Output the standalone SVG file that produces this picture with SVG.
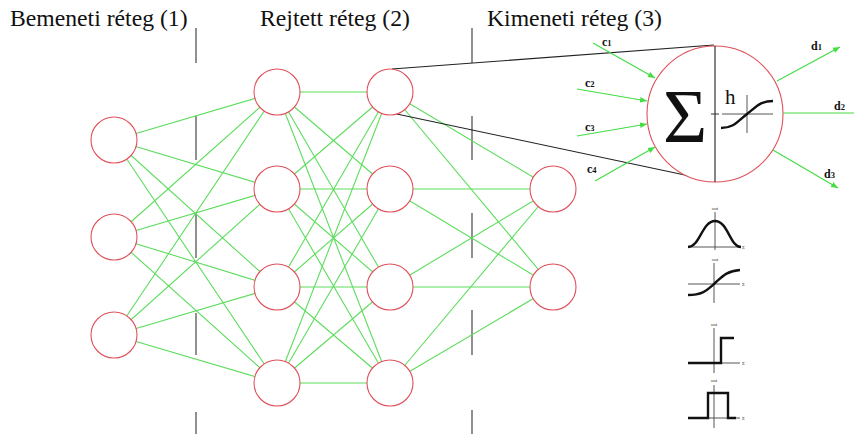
<svg xmlns="http://www.w3.org/2000/svg" width="854" height="434" viewBox="0 0 854 434">
<defs>
<style>
.n{fill:#fff;stroke:#e0505a;stroke-width:1.1}
.e{stroke:#5ddd5d;stroke-width:1.1;fill:none}
.a{stroke:#44dd44;stroke-width:1.2;fill:none}
.d{stroke:#555;stroke-width:1.3}
.k{stroke:#222;stroke-width:1.1;fill:none}
.t{font-family:"Liberation Serif","Times New Roman",serif;fill:#111}
.title{font-size:23.7px}
.lbl{font-size:12px;font-weight:bold}
.sub{font-size:8.5px}
.ax{stroke:#444;stroke-width:0.9;fill:none}
.fn{stroke:#111;stroke-width:2.4;fill:none}
.tiny{font-family:"Liberation Serif",serif;font-size:5px;fill:#333}
</style>
<marker id="ar" viewBox="0 0 10 10" refX="10" refY="5" markerWidth="7" markerHeight="7" markerUnits="userSpaceOnUse" orient="auto">
<path d="M0,1 L10,5 L0,9 Z" fill="#44dd44"/>
</marker>
</defs>
<rect width="854" height="434" fill="#fff"/>

<g id="titles" class="t title">
<text x="10" y="26">Bemeneti réteg (1)</text>
<text x="260" y="26">Rejtett réteg (2)</text>
<text x="487" y="26">Kimeneti réteg (3)</text>
</g>

<g id="separators" class="d">
<line x1="196" y1="28" x2="196" y2="63"/>
<line x1="196" y1="116" x2="196" y2="160"/>
<line x1="196" y1="213" x2="196" y2="258"/>
<line x1="196" y1="313" x2="196" y2="355"/>
<line x1="196" y1="412" x2="196" y2="434"/>
<line x1="472" y1="28" x2="472" y2="63"/>
<line x1="472" y1="116" x2="472" y2="160"/>
<line x1="472" y1="213" x2="472" y2="258"/>
<line x1="472" y1="310" x2="472" y2="355"/>
<line x1="472" y1="410" x2="472" y2="434"/>
</g>

<g id="connectors" class="e">
<path d="M114,140L277,92M114,140L277,189M114,140L277,287M114,140L277,383
M114,237L277,92M114,237L277,189M114,237L277,287M114,237L277,383
M114,335L277,92M114,335L277,189M114,335L277,287M114,335L277,383"/>
<path d="M277,92L390,92M277,92L390,189M277,92L390,287M277,92L390,383
M277,189L390,92M277,189L390,189M277,189L390,287M277,189L390,383
M277,287L390,92M277,287L390,189M277,287L390,287M277,287L390,383
M277,383L390,92M277,383L390,189M277,383L390,287M277,383L390,383"/>
<path d="M390,92L553,189M390,92L553,287M390,189L553,189M390,189L553,287
M390,287L553,189M390,287L553,287M390,383L553,189M390,383L553,287"/>
</g>

<g id="zoom-lines" class="k">
<line x1="392" y1="69" x2="714" y2="45"/>
<line x1="392" y1="113" x2="699" y2="178"/>
</g>

<g id="input-1"><circle class="n" cx="114" cy="140" r="23"/></g>
<g id="input-2"><circle class="n" cx="114" cy="237" r="23"/></g>
<g id="input-3"><circle class="n" cx="114" cy="335" r="23"/></g>
<g id="hidden1-1"><circle class="n" cx="277" cy="92" r="23"/></g>
<g id="hidden1-2"><circle class="n" cx="277" cy="189" r="23"/></g>
<g id="hidden1-3"><circle class="n" cx="277" cy="287" r="23"/></g>
<g id="hidden1-4"><circle class="n" cx="277" cy="383" r="23"/></g>
<g id="hidden2-1"><circle class="n" cx="390" cy="92" r="23"/></g>
<g id="hidden2-2"><circle class="n" cx="390" cy="189" r="23"/></g>
<g id="hidden2-3"><circle class="n" cx="390" cy="287" r="23"/></g>
<g id="hidden2-4"><circle class="n" cx="390" cy="383" r="23"/></g>
<g id="output-1"><circle class="n" cx="553" cy="189" r="23"/></g>
<g id="output-2"><circle class="n" cx="553" cy="287" r="23"/></g>

<g id="neuron-detail">
<circle class="n" cx="715" cy="114" r="68"/>
<line x1="715" y1="46" x2="715" y2="182" stroke="#333" stroke-width="1.2"/>
<line x1="711" y1="114" x2="719" y2="114" stroke="#333" stroke-width="1"/>
<text class="t" x="685" y="142" font-size="76" text-anchor="middle">Σ</text>
<text class="t" x="725" y="104" font-size="21">h</text>
<line class="ax" x1="722" y1="114" x2="773" y2="114"/>
<line class="ax" x1="747" y1="95" x2="747" y2="133"/>
<path class="fn" d="M721,128 C734,128 738,121 747,114 C756,107 760,101 773,101"/>
</g>

<g id="neuron-io" class="a">
<line x1="593" y1="43" x2="655" y2="78" marker-end="url(#ar)"/>
<line x1="577" y1="89" x2="647" y2="101" marker-end="url(#ar)"/>
<line x1="577" y1="136" x2="647" y2="124" marker-end="url(#ar)"/>
<line x1="595" y1="181" x2="655" y2="147" marker-end="url(#ar)"/>
<line x1="777" y1="81" x2="840" y2="47" marker-end="url(#ar)"/>
<line x1="783" y1="113" x2="854" y2="113"/>
<line x1="773" y1="150" x2="838" y2="188" marker-end="url(#ar)"/>
</g>
<g id="io-labels" class="t lbl">
<text x="602" y="46">c<tspan class="sub">1</tspan></text>
<text x="585" y="87">c<tspan class="sub">2</tspan></text>
<text x="585" y="131">c<tspan class="sub">3</tspan></text>
<text x="587" y="173">c<tspan class="sub">4</tspan></text>
<text x="811" y="50">d<tspan class="sub">1</tspan></text>
<text x="834" y="110">d<tspan class="sub">2</tspan></text>
<text x="824" y="178">d<tspan class="sub">3</tspan></text>
</g>

<g id="fn-gauss">
<text class="tiny" x="715" y="210" text-anchor="middle">out</text>
<line class="ax" x1="715" y1="212" x2="715" y2="250"/>
<line class="ax" x1="688" y1="247" x2="740" y2="247"/>
<path class="fn" d="M688,247 C700,247 702,221 715,221 C728,221 730,247 741,247" stroke-width="2"/>
<text class="tiny" x="742" y="249">Σ</text>
</g>
<g id="fn-sigmoid">
<text class="tiny" x="715" y="261" text-anchor="middle">out</text>
<line class="ax" x1="714" y1="263" x2="714" y2="303"/>
<line class="ax" x1="688" y1="284" x2="740" y2="284"/>
<path class="fn" d="M688,295 C702,295 706,291 714,284 C722,277 726,271 740,270" stroke-width="2"/>
<text class="tiny" x="742" y="286">Σ</text>
</g>
<g id="fn-step">
<text class="tiny" x="714" y="326" text-anchor="middle">out</text>
<line class="ax" x1="714" y1="328" x2="714" y2="373"/>
<line class="ax" x1="688" y1="363" x2="740" y2="363"/>
<path class="fn" d="M688,363 L721,363 L721,338 L734,338" stroke-width="2"/>
<text class="tiny" x="742" y="365">Σ</text>
</g>
<g id="fn-pulse">
<text class="tiny" x="714" y="382" text-anchor="middle">out</text>
<line class="ax" x1="714" y1="385" x2="714" y2="428"/>
<line class="ax" x1="688" y1="418" x2="740" y2="418"/>
<path class="fn" d="M688,418 L708,418 L708,393 L728,393 L728,418 L736,418" stroke-width="2"/>
<text class="tiny" x="742" y="420">Σ</text>
</g>
</svg>
